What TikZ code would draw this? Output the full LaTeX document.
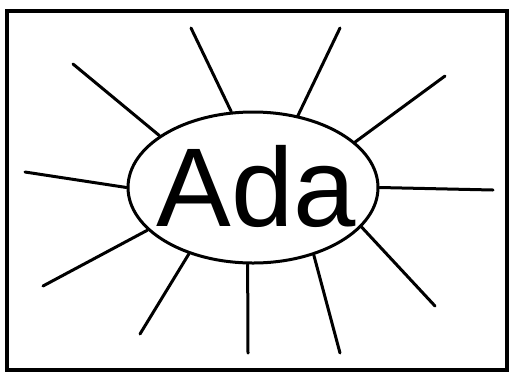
\documentclass[tikz,border=0pt]{standalone}
\usepackage{fontspec}
\setmainfont{Liberation Sans}
\usetikzlibrary{shapes.geometric}
\begin{document}
\begin{tikzpicture}[x=1pt,y=-1pt,
  spoke/.style={line width=3pt,line cap=round},
  frame/.style={line width=4pt},
  ring/.style={draw,ellipse,line width=3pt,inner sep=0pt,minimum width=250pt,minimum height=151pt}]
\useasboundingbox (0,0) rectangle (511,373);
\node[draw,frame,minimum width=500pt,minimum height=359pt,inner sep=0pt] (box) at (256.5,190) {};
\node[ring] (e) at (253,187.5) {};
\node[anchor=base,inner sep=0pt,font=\fontsize{112}{112}\selectfont] (t) at (256,226) {Ada};
\coordinate (o1) at (73,64);
\coordinate (o2) at (191,28);
\coordinate (o3) at (340,28);
\coordinate (o4) at (445,76);
\coordinate (o5) at (25,172);
\coordinate (o6) at (493,190);
\coordinate (o7) at (43,286);
\coordinate (o8) at (140,334);
\coordinate (o9) at (248,353);
\coordinate (o10) at (340,353);
\coordinate (o11) at (435,306);
\draw[spoke] (e.151) -- (o1);
\draw[spoke] (e.106) -- (o2);
\draw[spoke] (e.58) -- (o3);
\draw[spoke] (e.24.5) -- (o4);
\draw[spoke] (e.180) -- (o5);
\draw[spoke] (e.0) -- (o6);
\draw[spoke] (e.202) -- (o7);
\draw[spoke] (e.226.5) -- (o8);
\draw[spoke] (e.266) -- (o9);
\draw[spoke] (e.312.6) -- (o10);
\draw[spoke] (e.340) -- (o11);
\end{tikzpicture}
\end{document}
